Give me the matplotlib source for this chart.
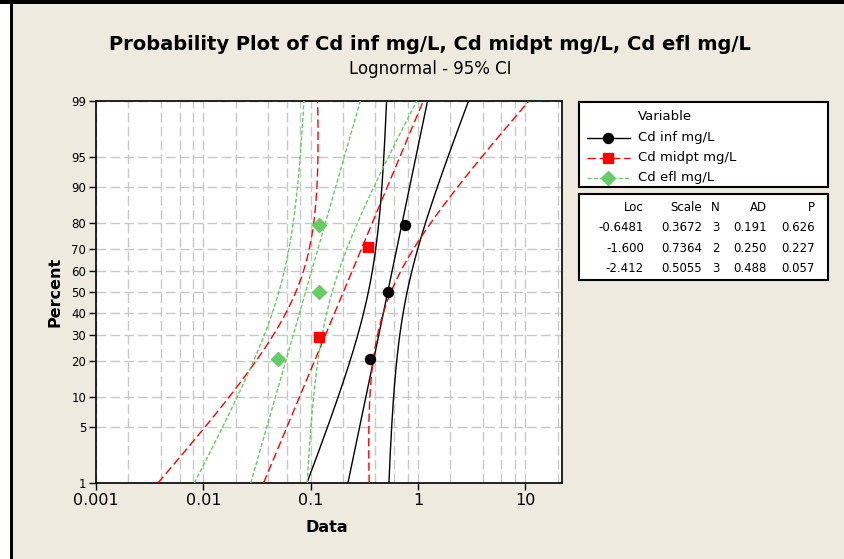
"""Lognormal probability plot of Cd (inf / midpt / efl) with 95% CI -- Minitab style."""

import math
from statistics import NormalDist

import numpy as np
import matplotlib
matplotlib.use("Agg")
import matplotlib.pyplot as plt
from matplotlib.patches import Rectangle
from matplotlib.ticker import FixedLocator, NullFormatter

# data (mg/L)
series_names = ["Cd inf mg/L", "Cd midpt mg/L", "Cd efl mg/L"]
cd_inf = [0.36, 0.53, 0.75]
cd_midpt = [0.12, 0.34]
cd_efl = [0.05, 0.12, 0.12]

# summary table as printed by Minitab
tbl_header = ["Loc", "Scale", "N", "AD", "P"]
tbl_loc = ["-0.6481", "-1.600", "-2.412"]
tbl_scale = ["0.3672", "0.7364", "0.5055"]
tbl_n = ["3", "2", "3"]
tbl_ad = ["0.191", "0.250", "0.488"]
tbl_p = ["0.626", "0.227", "0.057"]

pct_ticks = [1, 5, 10, 20, 30, 40, 50, 60, 70, 80, 90, 95, 99]
x_ticks = [0.001, 0.01, 0.1, 1, 10]
x_tick_labels = ["0.001", "0.01", "0.1", "1", "10"]

W, H = 845, 559
BG = "#eeeae0"
GRID = "#c8c8c8"

colors = ["#000000", "#ff0000", "#66cc66"]
markers = ["o", "s", "D"]
msizes = [7.2, 6.8, 7.2]
lstyles = ["-", (0, (6, 2.8)), (0, (3, 1.5))]

nd = NormalDist()


def zval(p):
    return nd.inv_cdf(p)


def fig_rect(px_left, px_top, px_w, px_h):
    return [px_left / W, 1 - (px_top + px_h) / H, px_w / W, px_h / H]


fig = plt.figure(figsize=(W / 100, H / 100), dpi=100, facecolor=BG)

# window frame bits (black top band, white strip + black line on the left)
fig.patches.append(Rectangle((0, 1 - 4 / H), 1, 4 / H, transform=fig.transFigure,
                             facecolor="black", edgecolor="none", zorder=0))
fig.patches.append(Rectangle((0, 0), 10 / W, 1 - 4 / H, transform=fig.transFigure,
                             facecolor="white", edgecolor="none", zorder=0))
fig.patches.append(Rectangle((10 / W, 0), 3 / W, 1 - 4 / H, transform=fig.transFigure,
                             facecolor="black", edgecolor="none", zorder=0))

ax = fig.add_axes(fig_rect(96, 101, 466, 382))
ax.set_facecolor("white")
ax.set_xscale("log")

z_lo, z_hi = zval(0.01), zval(0.99)
zs = np.linspace(z_lo, z_hi, 300)

all_data = [cd_inf, cd_midpt, cd_efl]
for i, vals in enumerate(all_data):
    v = np.sort(np.log(np.array(vals, dtype=float)))
    n = len(v)
    mu = v.mean()
    s = v.std(ddof=1)
    # plotting positions (median ranks)
    ranks = np.arange(1, n + 1)
    zp = np.array([zval((r - 0.3) / (n + 0.4)) for r in ranks])

    # fit + 95% CI on percentiles
    c4 = math.sqrt(2 / (n - 1)) * math.gamma(n / 2) / math.gamma((n - 1) / 2)
    xp = mu + zs * s
    se = s * np.sqrt(1 / n + zs ** 2 * (1 - c4 ** 2))
    kw = dict(color=colors[i], linestyle=lstyles[i], linewidth=1.0, zorder=3)
    ax.plot(np.exp(xp), zs, **kw)
    ax.plot(np.exp(xp - 1.96 * se), zs, **kw)
    ax.plot(np.exp(xp + 1.96 * se), zs, **kw)
    ax.plot(np.exp(v), zp, linestyle="none", marker=markers[i], markersize=msizes[i],
            color=colors[i], markeredgecolor=colors[i], zorder=5)

ax.set_xlim(0.001, 22)
ax.set_ylim(z_lo, z_hi)

ax.set_xticks(x_ticks)
ax.set_xticklabels(x_tick_labels, fontsize=11.5)
minor_x = [k * 10.0 ** d for d in range(-3, 2) for k in (2, 4, 6, 8)]
ax.xaxis.set_minor_locator(FixedLocator(minor_x))
ax.xaxis.set_minor_formatter(NullFormatter())
ax.set_yticks([zval(p / 100) for p in pct_ticks])
ax.set_yticklabels([str(p) for p in pct_ticks], fontsize=8.5)
ax.yaxis.set_minor_locator(FixedLocator([]))

ax.tick_params(axis="both", which="major", direction="out", length=5, width=1,
               color="black", pad=2)
ax.tick_params(axis="both", which="minor", length=0)
ax.grid(True, which="both", color=GRID, linestyle=(0, (7, 3)), linewidth=1.0, zorder=1)
ax.set_axisbelow(True)
for sp in ax.spines.values():
    sp.set_linewidth(1.2)
    sp.set_color("black")

fig.text(430 / W, 1 - 45 / H, "Probability Plot of Cd inf mg/L, Cd midpt mg/L, Cd efl mg/L",
         ha="center", va="center", fontsize=14, fontweight="bold")
fig.text(430 / W, 1 - 69 / H, "Lognormal - 95% CI", ha="center", va="center", fontsize=12)
fig.text(55 / W, 1 - 292 / H, "Percent", ha="center", va="center", rotation=90,
         fontsize=11.5, fontweight="bold")
fig.text(327 / W, 1 - 527 / H, "Data", ha="center", va="center",
         fontsize=11.5, fontweight="bold")

# legend box
lax = fig.add_axes(fig_rect(579, 102, 249, 85))
lax.set_xlim(0, 249)
lax.set_ylim(85, 0)
lax.set_xticks([])
lax.set_yticks([])
lax.set_facecolor("white")
for sp in lax.spines.values():
    sp.set_linewidth(1.5)
lax.text(59, 14, "Variable", ha="left", va="center", fontsize=9.5)
for i, name in enumerate(series_names):
    yy = 35.5 + i * 20
    lax.plot([8, 51], [yy, yy], color=colors[i], linestyle=lstyles[i], linewidth=1.0)
    lax.plot([29], [yy], marker=markers[i], markersize=msizes[i], color=colors[i],
             linestyle="none")
    lax.text(59, yy, name, ha="left", va="center", fontsize=9.5)

# stats table box
tax = fig.add_axes(fig_rect(579, 194, 249, 86))
tax.set_xlim(0, 249)
tax.set_ylim(86, 0)
tax.set_xticks([])
tax.set_yticks([])
tax.set_facecolor("white")
for sp in tax.spines.values():
    sp.set_linewidth(1.5)
col_right = [65, 123, 141, 188, 236]
columns = [tbl_loc, tbl_scale, tbl_n, tbl_ad, tbl_p]
for j, hdr in enumerate(tbl_header):
    tax.text(col_right[j], 14, hdr, ha="right", va="center", fontsize=8.5)
    for r in range(3):
        tax.text(col_right[j], 34 + r * 20.5, columns[j][r], ha="right", va="center",
                 fontsize=8.5)

fig.savefig("out.png", dpi=100, facecolor=BG)
